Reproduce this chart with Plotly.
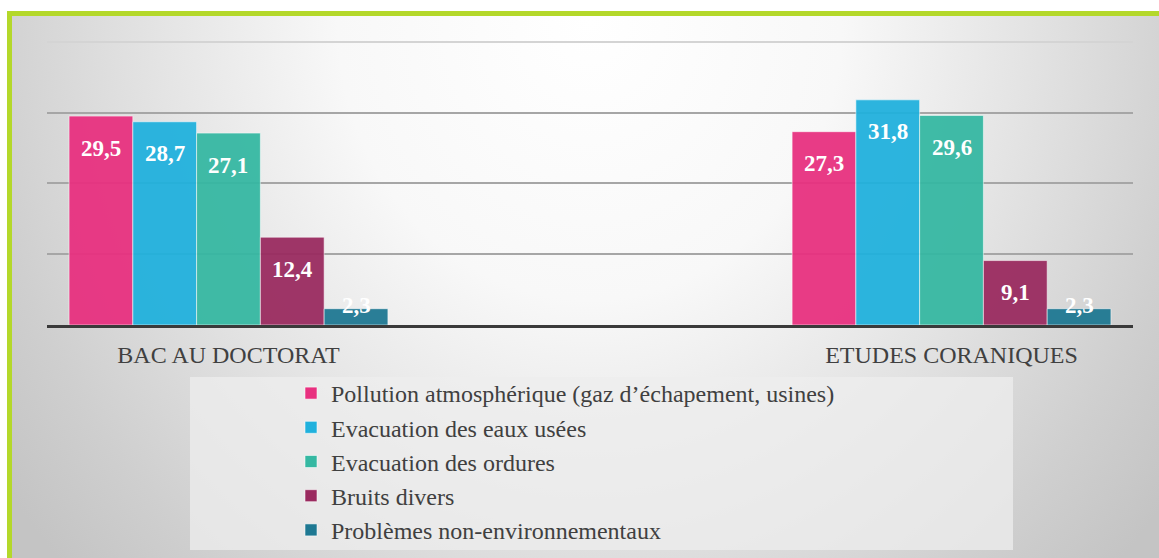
import plotly.graph_objects as go

# ---- data ----
categories = ["BAC AU DOCTORAT", "ETUDES CORANIQUES"]
series_names = [
    "Pollution atmosphérique (gaz d’échapement, usines)",
    "Evacuation des eaux usées",
    "Evacuation des ordures",
    "Bruits divers",
    "Problèmes non-environnementaux",
]
pollution = [29.5, 27.3]
eaux_usees = [28.7, 31.8]
ordures = [27.1, 29.6]
bruits = [12.4, 9.1]
non_env = [2.3, 2.3]
grid_values = [10, 20, 30]
top_grid_value = [40]

series_values = [pollution, eaux_usees, ordures, bruits, non_env]

# ---- styles ----
colors = ["#E8307F", "#20B1DD", "#35B8A2", "#9A2A5F", "#1E7892"]
FONT = "Liberation Serif, DejaVu Serif, serif"
TEXT_COLOR = "#404040"

W, H = 1159, 558
PX_L, PX_R, PX_T, PX_B = 47, 1133, 40, 325      # plot area (pixels)
Y_MAX = 40.25
X_RANGE = [-0.251, 1.251]
GROUP_WIDTH = 0.441
BAR_W = GROUP_WIDTH / len(series_values)
px_per_unit = (PX_B - PX_T) / Y_MAX

fig = go.Figure()

# slide background: radial grey gradient (own full-size axes, drawn first)
cx, cy, rx, ry = 590, 20, 720, 800
fig.add_trace(go.Scatter(
    x=[cx - rx, cx + rx, cx + rx, cx - rx, cx - rx],
    y=[cy - ry, cy - ry, cy + ry, cy + ry, cy - ry],
    mode="none", fill="toself",
    fillgradient=dict(
        type="radial",
        colorscale=[[0, "#ffffff"], [0.35, "#f8f8f8"], [0.6, "#e4e4e4"],
                    [0.85, "#cfcfcf"], [1, "#c4c4c4"]],
    ),
    hoverinfo="skip", showlegend=False, xaxis="x", yaxis="y",
))

# bars
idx = list(range(len(categories)))
annotations = []
for i, (name, vals, col) in enumerate(zip(series_names, series_values, colors)):
    off = -GROUP_WIDTH / 2 + i * BAR_W
    fig.add_trace(go.Bar(
        x=idx, y=vals, name=name,
        width=BAR_W, offset=off,
        marker=dict(color=col, opacity=0.94,
                    line=dict(color="rgba(255,255,255,0.55)", width=1)),
        xaxis="x2", yaxis="y2", hoverinfo="skip",
    ))
    for k, v in zip(idx, vals):
        tall = v * px_per_unit >= 52
        annotations.append(dict(
            x=k + off + BAR_W / 2, y=v if tall else 0,
            xref="x2", yref="y2",
            yshift=-32 if tall else 20,
            text=f"<b>{v:.1f}</b>".replace(".", ","),
            showarrow=False, xanchor="center", yanchor="middle",
            font=dict(family=FONT, size=23, color="white"),
        ))

# empty trace so the overlaid value axis (lighter top gridline) is rendered
fig.add_trace(go.Scatter(x=[None], y=[None], xaxis="x2", yaxis="y3",
                         mode="none", showlegend=False, hoverinfo="skip"))

shapes = [
    # green slide frame (top and left edges)
    dict(type="rect", xref="paper", yref="paper",
         x0=7 / W, x1=1, y0=0, y1=1 - 11 / H,
         fillcolor="#B4D82A", line=dict(width=0), layer="below"),
    # legend panel
    dict(type="rect", xref="paper", yref="paper",
         x0=190 / W, x1=1013 / W, y0=1 - 550 / H, y1=1 - 377 / H,
         fillcolor="rgba(238,238,238,0.75)", line=dict(width=0), layer="above"),
]

fig.update_layout(
    width=W, height=H,
    margin=dict(l=0, r=0, t=0, b=0),
    paper_bgcolor="white", plot_bgcolor="rgba(0,0,0,0)",
    barmode="group",
    font=dict(family=FONT, color=TEXT_COLOR),
    xaxis=dict(domain=[12 / W, 1], range=[12, W], visible=False, fixedrange=True),
    yaxis=dict(domain=[0, 1 - 16 / H], range=[H, 16], visible=False, fixedrange=True),
    xaxis2=dict(
        domain=[PX_L / W, PX_R / W], anchor="y2", range=X_RANGE,
        tickvals=idx, ticktext=categories, ticks="",
        tickfont=dict(family=FONT, size=24, color=TEXT_COLOR),
        ticklabelstandoff=6,
        showgrid=False, zeroline=False,
        showline=True, linecolor="#3a3a3a", linewidth=3,
    ),
    yaxis2=dict(
        domain=[1 - PX_B / H, 1 - PX_T / H], anchor="x2", range=[0, Y_MAX],
        tickvals=grid_values, showgrid=True, gridcolor="#a6a6a6", gridwidth=2,
        zeroline=False, showticklabels=False, ticks="",
    ),
    # lighter top gridline on an overlaid copy of the value axis
    yaxis3=dict(
        overlaying="y2", anchor="x2", range=[0, Y_MAX],
        tickvals=top_grid_value, showgrid=True, gridcolor="#d4d4d4", gridwidth=2,
        zeroline=False, showticklabels=False, ticks="",
    ),
    legend=dict(
        x=291 / W, xanchor="left", y=1 - 371 / H, yanchor="top",
        bgcolor="rgba(0,0,0,0)", traceorder="normal",
        font=dict(family=FONT, size=24, color=TEXT_COLOR),
    ),
    shapes=shapes,
    annotations=annotations,
)

fig.write_html("out.html", config={"displayModeBar": False})
